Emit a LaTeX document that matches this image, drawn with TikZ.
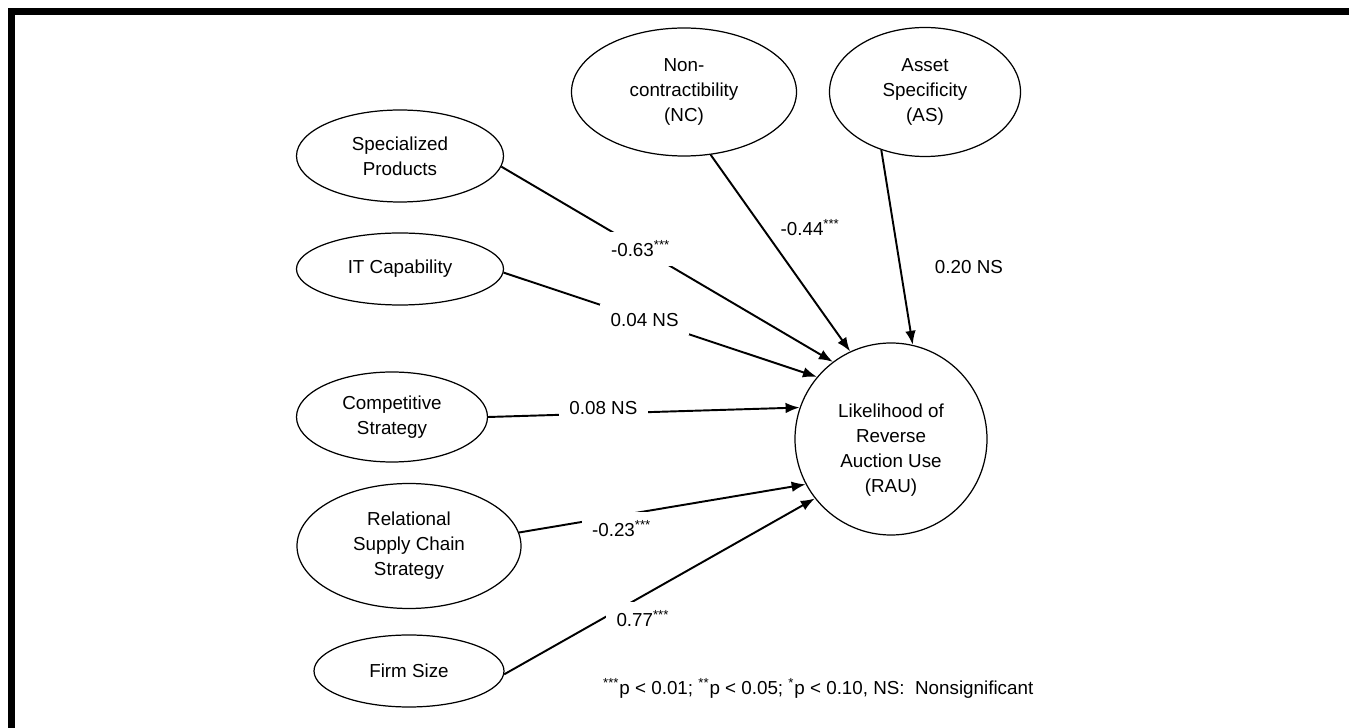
\documentclass[tikz,border=0pt]{standalone}
\usepackage{fontspec}
\setmainfont{Liberation Sans}
\usetikzlibrary{shapes.geometric,arrows.meta}
\begin{document}
\begin{tikzpicture}[
		construct/.style={draw, ellipse, line width=0.7pt, inner sep=0pt, align=center},
		effect/.style={-{Latex[length=8pt,width=6pt]}, line width=1.1pt},
		coef/.style={fill=white, inner xsep=6pt, inner ysep=5pt},
		font=\fontsize{10.7}{14.2}\selectfont]
			%\draw [help lines] (0,-15) grid (27,0);
			\useasboundingbox (0,0) rectangle (26.98,-14.56);
			\draw[line width=0.14cm] (0.23,-14.56) -- (0.23,-0.24) -- (26.98,-0.24);
			\node[construct, minimum width=4.14cm, minimum height=1.84cm] (spec) at (8.00,-3.12) {Specialized\\Products};
			\node[construct, minimum width=4.14cm, minimum height=1.44cm] (it) at (8.00,-5.38) {IT Capability};
			\node[construct, minimum width=3.82cm, minimum height=1.80cm] (comp) at (7.84,-8.34) {Competitive\\Strategy};
			\node[construct, minimum width=4.48cm, minimum height=2.50cm] (rel) at (8.18,-10.92) {Relational\\Supply Chain\\Strategy};
			\node[construct, minimum width=3.80cm, minimum height=1.44cm] (firm) at (8.18,-13.42) {Firm Size};
			\node[construct, minimum width=4.50cm, minimum height=2.56cm] (nc) at (13.68,-1.84) {Non-\\contractibility\\(NC)};
			\node[construct, minimum width=3.82cm, minimum height=2.58cm] (as) at (18.50,-1.84) {Asset\\Specificity\\(AS)};
			\node[draw, circle, line width=0.7pt, minimum size=3.84cm] (rau) at (17.82,-8.78) {\raisebox{-0.22cm}[\height][\depth]{\begin{tabular}{@{}c@{}}Likelihood of\\Reverse\\Auction Use\\(RAU)\end{tabular}}};
			\node[anchor=west] (note) at (11.94,-13.76) {\textsuperscript{***}p < 0.01; \textsuperscript{**}p < 0.05; \textsuperscript{*}p < 0.10, NS:~~Nonsignificant};
			\draw[effect] (spec.-6) -- node[coef, pos=.42] {-0.63\textsuperscript{***}} (rau.127);
			\draw[effect] (it.-2) -- node[coef, pos=.45] {0.04 NS} (rau.140);
			\draw[effect] (comp.0) -- node[coef, pos=.37, yshift=0.1cm] {0.08 NS} (rau.161);
			\draw[effect] (rel.7) -- node[coef, pos=.33, xshift=0.16cm, yshift=-0.24cm] {-0.23\textsuperscript{***}} (rau.208);
			\draw[effect] (firm.-2) -- node[coef, pos=.35, xshift=0.6cm, yshift=-0.12cm] {0.77\textsuperscript{***}} (rau.218);
			\draw[effect] (nc.-67) -- node[anchor=west, pos=.37, xshift=0.23cm] {-0.44\textsuperscript{***}} (rau.115);
			\draw[effect] (as.-127) -- node[anchor=west, pos=.6, xshift=0.56cm] {0.20 NS} (rau.77);
		\end{tikzpicture}
\end{document}
